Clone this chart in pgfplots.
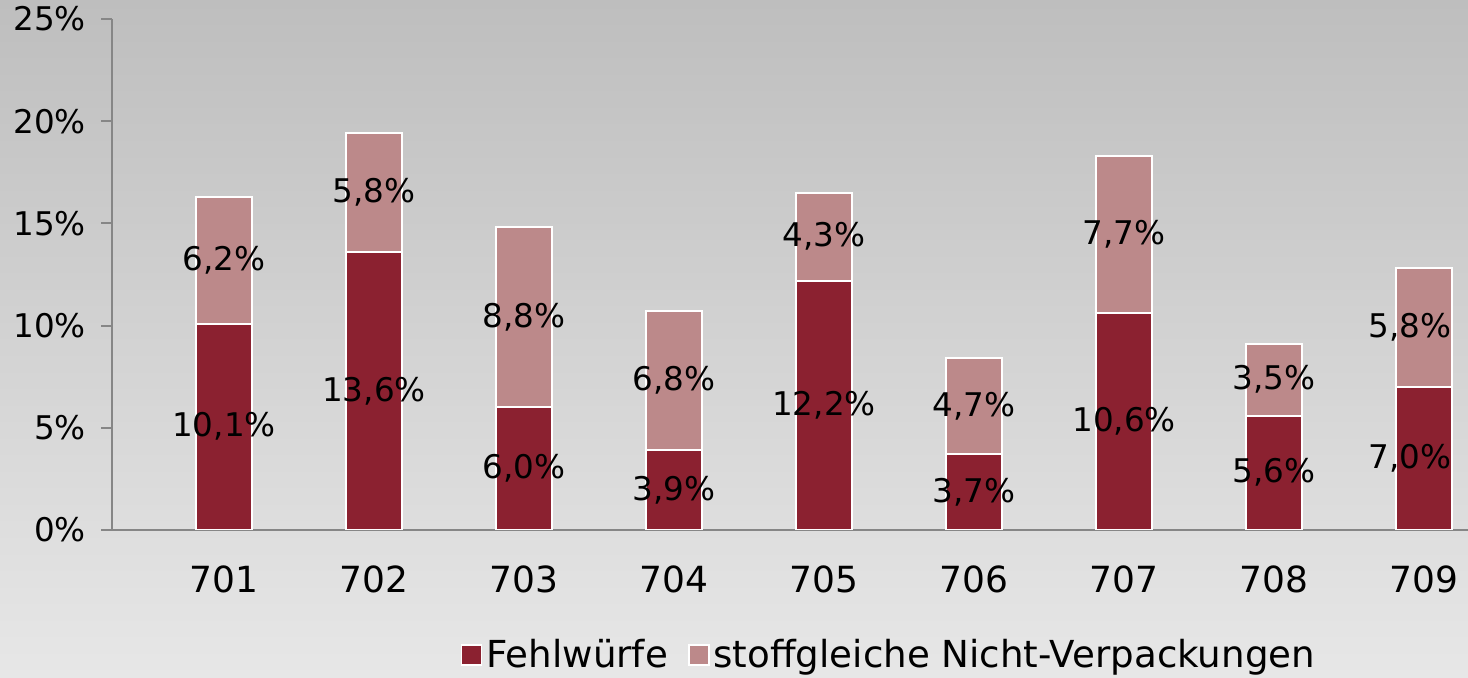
\documentclass[border=0pt]{standalone}
\usepackage{fontspec}
\setmainfont{DejaVu Sans}
\usepackage{pgfplots}
\pgfplotsset{compat=1.18}
\definecolor{dark}{RGB}{139,33,48}
\definecolor{light}{RGB}{188,137,138}
\definecolor{bgtop}{RGB}{190,190,190}
\definecolor{bgbot}{RGB}{231,231,231}
\definecolor{axgray}{RGB}{134,134,134}
\begin{document}
\begin{tikzpicture}
\shade[top color=bgtop, bottom color=bgbot] (0,0) rectangle (734pt,339pt);
\begin{axis}[
  at={(56pt,74pt)}, anchor=south west,
  scale only axis, width=678pt, height=255.5pt,
  ybar stacked, bar width=28pt,
  xmin=-0.7467, xmax=8.293, ymin=0, ymax=25,
  xtick={0,...,8}, xticklabels={701,702,703,704,705,706,707,708,709},
  ytick={0,5,...,25},
  separate axis lines,
  axis x line*=bottom, axis y line*=left,
  axis line style={draw=axgray, line width=1pt},
  xtick style={draw=none},
  ytick style={draw=axgray, line width=1pt},
  tick align=outside, major tick length=5.5pt,
  /pgf/number format/assume math mode=true,
  yticklabel={\pgfmathprintnumber{\tick}\%},
  yticklabel style={font=\fontsize{16.3}{19}\selectfont, xshift=-4pt},
  xticklabel style={font=\fontsize{18}{21}\selectfont, anchor=center, yshift=-19pt},
  visualization depends on=rawy\as\rawy,
  visualization depends on=x\as\rawx,
  nodes near coords={\pgfmathprintnumber[fixed,fixed zerofill,precision=1,use comma]{\rawy}\%},
  every node near coord/.append style={anchor=center, black, font=\fontsize{16.3}{19}\selectfont,
     xshift={(\rawx>7.5)*(-7)}},
  legend columns=2,
  legend style={at={(0.5737,-0.2446)}, anchor=center, draw=none, fill=none,
     font=\fontsize{18.6}{21}\selectfont,
     /tikz/every even column/.append style={column sep=8pt}},
  legend image code/.code={\draw[#1, draw=white, line width=0.8pt] (-3pt,-5pt) rectangle (7pt,5pt);},
]
\addplot[fill=dark, draw=white, line width=1pt] coordinates {(0,10.1)(1,13.6)(2,6.0)(3,3.9)(4,12.2)(5,3.7)(6,10.6)(7,5.6)(8,7.0)};
\addplot[fill=light, draw=white, line width=1pt] coordinates {(0,6.2)(1,5.8)(2,8.8)(3,6.8)(4,4.3)(5,4.7)(6,7.7)(7,3.5)(8,5.8)};
\legend{Fehlwürfe, stoffgleiche Nicht-Verpackungen}
\end{axis}
\pgfresetboundingbox
\useasboundingbox (0,0) rectangle (734pt,339pt);
\end{tikzpicture}
\end{document}
